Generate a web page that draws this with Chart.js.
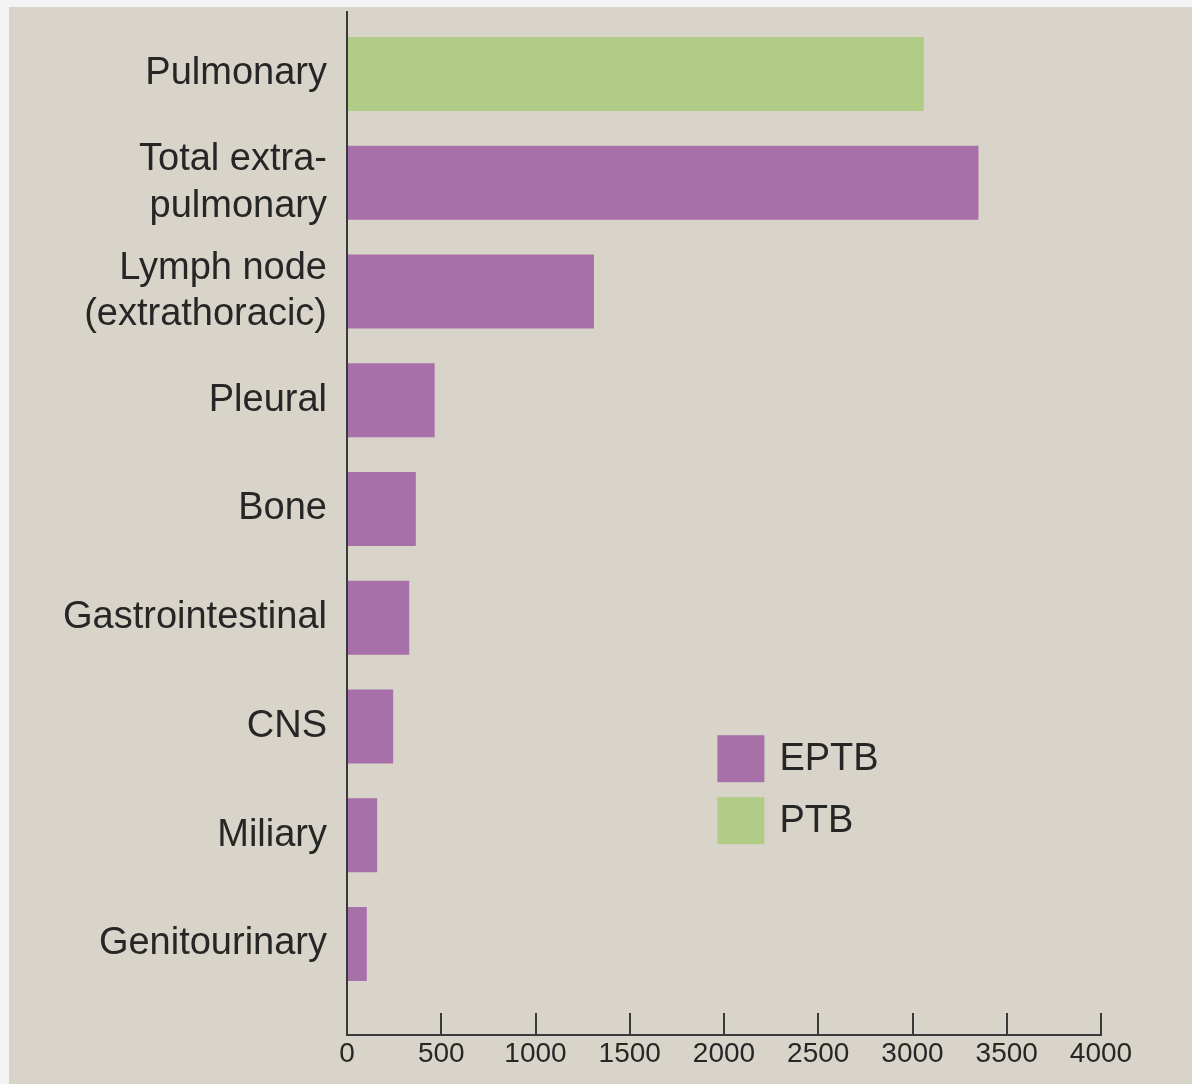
<!DOCTYPE html>
<html>
<head>
<meta charset="utf-8">
<script src="https://cdn.jsdelivr.net/npm/chart.js@4.4.1/dist/chart.umd.min.js"></script>
<style>
  html, body { margin: 0; padding: 0; background: #f3f3f3; width: 1192px; height: 1084px; overflow: hidden; }
  #panel { position: absolute; left: 9px; top: 7px; width: 1183px; height: 1077px; background: #d8d4c9; }
  #panel canvas { display: block; }
</style>
</head>
<body>
<div id="panel"><canvas id="c" width="1183" height="1077"></canvas></div>
<script>
// ---- data ----
const categories = [
  ["Pulmonary"],
  ["Total extra-", "pulmonary"],
  ["Lymph node", "(extrathoracic)"],
  ["Pleural"],
  ["Bone"],
  ["Gastrointestinal"],
  ["CNS"],
  ["Miliary"],
  ["Genitourinary"]
];
const seriesNames = ["EPTB", "PTB"];
const eptbValues = [null, 3350, 1310, 465, 365, 330, 245, 160, 105];
const ptbValues  = [3060, null, null, null, null, null, null, null, null];
const xTickValues = [0, 500, 1000, 1500, 2000, 2500, 3000, 3500, 4000];

const purple = '#a870a9';
const green = '#b0cc86';
const textColor = '#262626';
const axisColor = '#3a3a3a';

function toPoints(vals) {
  const pts = [];
  vals.forEach((v, i) => { if (v !== null) pts.push({ x: v, y: i }); });
  return pts;
}

const legendPlugin = {
  id: 'insideLegend',
  afterDraw(chart) {
    const ctx = chart.ctx;
    const xs = chart.scales.x, ys = chart.scales.y;
    const left = xs.getPixelForValue(1965);
    const top = ys.getPixelForValue(6.08);
    const box = 47, rowGap = 62;
    ctx.save();
    ctx.font = '38px "Liberation Sans", Arial, sans-serif';
    ctx.textBaseline = 'middle';
    ctx.textAlign = 'left';
    chart.data.datasets.forEach((ds, i) => {
      const y = top + i * rowGap;
      ctx.fillStyle = ds.backgroundColor;
      ctx.fillRect(left, y, box, box);
      ctx.fillStyle = textColor;
      ctx.fillText(ds.label, left + box + 15, y + box / 2 + 1);
    });
    ctx.restore();
  }
};

function noPad(s) { s.paddingTop = 0; s.paddingBottom = 0; s.paddingLeft = 0; s.paddingRight = 0; }

new Chart(document.getElementById('c'), {
  type: 'bar',
  data: {
    datasets: [
      { label: seriesNames[0], data: toPoints(eptbValues), backgroundColor: purple },
      { label: seriesNames[1], data: toPoints(ptbValues), backgroundColor: green }
    ]
  },
  options: {
    indexAxis: 'y',
    responsive: false,
    animation: false,
    grouped: false,
    barPercentage: 0.68,
    categoryPercentage: 1.0,
    layout: { padding: { top: 5, right: 91, bottom: 0, left: 0 } },
    plugins: { legend: { display: false }, tooltip: { enabled: false } },
    scales: {
      x: {
        type: 'linear',
        position: 'bottom',
        min: 0,
        max: 4000,
        afterBuildTicks: (s) => { s.ticks = xTickValues.map(v => ({ value: v })); },
        afterFit: (s) => { s.height = 49; noPad(s); },
        grid: { display: true, drawOnChartArea: false, drawTicks: true, tickLength: -22, color: axisColor, lineWidth: 2 },
        border: { display: true, color: axisColor, width: 2 },
        ticks: {
          color: textColor,
          padding: 24,
          maxRotation: 0,
          callback: (v) => String(v),
          font: { family: '"Liberation Sans", Arial, sans-serif', size: 28 }
        }
      },
      y: {
        type: 'linear',
        position: 'left',
        reverse: true,
        offset: false,
        min: -0.57,
        max: 8.837,
        afterBuildTicks: (s) => { s.ticks = categories.map((c, i) => ({ value: i })); },
        afterFit: (s) => { s.width = 338; noPad(s); },
        grid: { display: false, drawTicks: false, offset: false },
        border: { display: true, color: axisColor, width: 2 },
        ticks: {
          color: textColor,
          padding: 20,
          autoSkip: false,
          callback: (v) => categories[v],
          font: { family: '"Liberation Sans", Arial, sans-serif', size: 38, lineHeight: 1.23 }
        }
      }
    }
  },
  plugins: [legendPlugin]
});
</script>
</body>
</html>
